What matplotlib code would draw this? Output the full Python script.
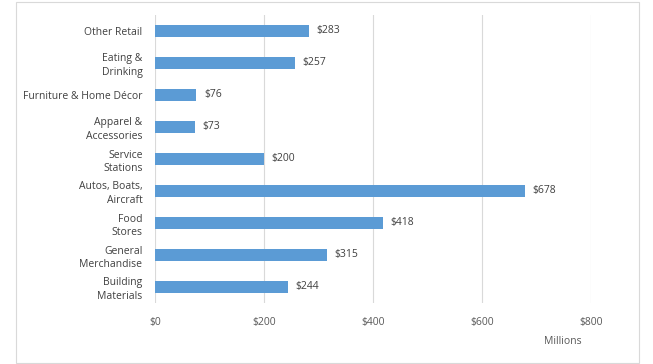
import matplotlib
matplotlib.use("Agg")
import matplotlib.pyplot as plt
from matplotlib.patches import Rectangle

categories = ["Building\nMaterials", "General\nMerchandise", "Food\nStores",
              "Autos, Boats,\nAircraft", "Service\nStations", "Apparel &\nAccessories",
              "Furniture & Home Décor", "Eating &\nDrinking", "Other Retail"]
values = [244, 315, 418, 678, 200, 73, 76, 257, 283]
xticks = [0, 200, 400, 600, 800]
xtick_labels = ["$0", "$200", "$400", "$600", "$800"]

plt.rcParams['font.family'] = ['Open Sans', 'DejaVu Sans']
txt = "#595959"
fig = plt.figure(figsize=(6.53, 3.64), dpi=100)
ax = fig.add_axes([155/653, 1-303/364, (591-155)/653, 288/364])
y = list(range(len(categories)))
ax.barh(y, values, height=0.38, color="#5B9BD5", zorder=3)
for yi, v in zip(y, values):
    ax.text(v + 14, yi, f"${v}", va="center", ha="left", fontsize=7.5, color="#404040")
ax.set_xlim(0, 800)
ax.set_ylim(-0.5, len(categories) - 0.5)
ax.set_xticks(xticks)
ax.set_xticklabels(xtick_labels, fontsize=7.5, color=txt)
ax.set_yticks(y)
ax.set_yticklabels(categories, fontsize=7.5, color="#404040", linespacing=1.35)
ax.tick_params(length=0, pad=9)
ax.tick_params(axis='x', pad=10)
ax.grid(axis='x', color="#D9D9D9", linewidth=0.8, zorder=0)
for s in ax.spines.values():
    s.set_visible(False)
fig.text(563/653, 1-341/364, "Millions", fontsize=7.5, color=txt, ha="center", va="center")
fig.patches.append(Rectangle((16/653, 1/364), (639-16)/653, 361/364, transform=fig.transFigure,
                             fill=False, edgecolor="#D9D9D9", linewidth=0.8))
fig.savefig("out.png", dpi=100)
